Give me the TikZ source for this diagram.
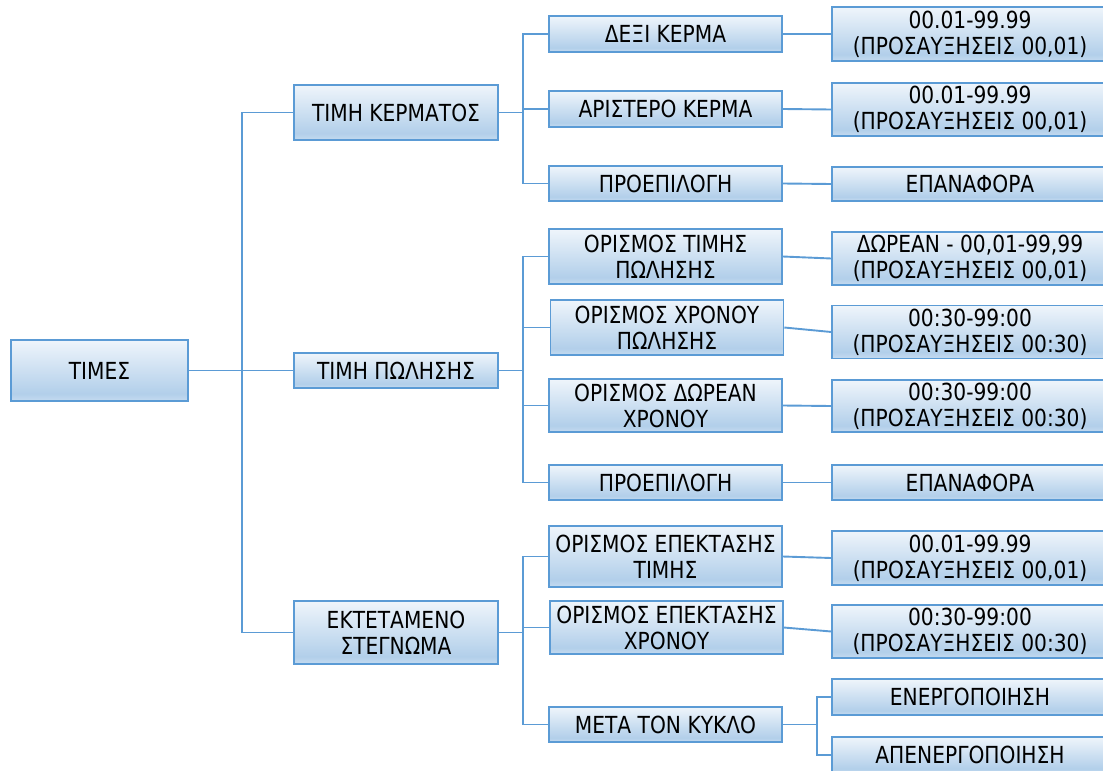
\documentclass[tikz,border=0pt]{standalone}
\usepackage{fontspec}
\setmainfont{DejaVu Sans}[FakeStretch=0.86]
\definecolor{boxline}{HTML}{5B9BD5}
\definecolor{boxtop}{HTML}{EFF5FB}
\definecolor{boxmid}{HTML}{B2CFEA}
\definecolor{boxbot}{HTML}{C5DBF0}
\pgfdeclareverticalshading{boxfill}{100bp}{color(0bp)=(boxbot); color(25bp)=(boxbot); color(31bp)=(boxmid); color(75bp)=(boxtop); color(100bp)=(boxtop)}
\begin{document}
\begin{tikzpicture}[x=1pt,y=1pt,
  box/.style={draw=boxline,line width=1.6pt,shade,shading=boxfill,align=center,inner sep=0pt,font=\fontsize{23.5}{26}\selectfont},
  lvone/.style={box,minimum width=204pt},
  lvtwo/.style={box,minimum width=233pt},
  lvthree/.style={box,minimum width=276pt},
  link/.style={draw=boxline,line width=1.9pt}]
\useasboundingbox (0,0) rectangle (1103,-771);
\clip (0,0) rectangle (1103,-771);
\node[box,minimum width=177pt,minimum height=61pt] (times) at (99.5,-370.5) {ΤΙΜΕΣ};
\node[lvone,minimum height=55pt] (coin) at (396,-112.5) {ΤΙΜΗ ΚΕΡΜΑΤΟΣ};
\node[lvone,minimum height=35pt] (sale) at (396,-370.5) {ΤΙΜΗ ΠΩΛΗΣΗΣ};
\node[lvone,minimum height=63pt] (dry) at (396,-632.5) {ΕΚΤΕΤΑΜΕΝΟ\\ΣΤΕΓΝΩΜΑ};
\node[lvtwo,minimum height=36pt] (right) at (665.5,-34) {ΔΕΞΙ ΚΕΡΜΑ};
\node[lvtwo,minimum height=36pt] (left) at (665.5,-109) {ΑΡΙΣΤΕΡΟ ΚΕΡΜΑ};
\node[lvtwo,minimum height=35pt] (presetA) at (665.5,-183.5) {ΠΡΟΕΠΙΛΟΓΗ};
\node[lvtwo,minimum height=55pt] (saleprice) at (665.5,-256.5) {ΟΡΙΣΜΟΣ ΤΙΜΗΣ\\ΠΩΛΗΣΗΣ};
\node[lvtwo,minimum height=55pt] (saletime) at (667,-327.5) {ΟΡΙΣΜΟΣ ΧΡΟΝΟΥ\\ΠΩΛΗΣΗΣ};
\node[lvtwo,minimum height=53pt] (freetime) at (665.5,-405.5) {ΟΡΙΣΜΟΣ ΔΩΡΕΑΝ\\ΧΡΟΝΟΥ};
\node[lvtwo,minimum height=35pt] (presetB) at (665.5,-482.5) {ΠΡΟΕΠΙΛΟΓΗ};
\node[lvtwo,minimum height=61pt] (extprice) at (665.5,-556.5) {ΟΡΙΣΜΟΣ ΕΠΕΚΤΑΣΗΣ\\ΤΙΜΗΣ};
\node[lvtwo,minimum height=53pt] (exttime) at (666.5,-627.5) {ΟΡΙΣΜΟΣ ΕΠΕΚΤΑΣΗΣ\\ΧΡΟΝΟΥ};
\node[lvtwo,minimum height=35pt] (after) at (665.5,-724.5) {ΜΕΤΑ ΤΟΝ ΚΥΚΛΟ};
\node[lvthree,minimum height=54pt] (rangeA) at (970,-34) {00.01-99.99\\(ΠΡΟΣΑΥΞΗΣΕΙΣ 00,01)};
\node[lvthree,minimum height=53pt] (rangeB) at (970,-109.5) {00.01-99.99\\(ΠΡΟΣΑΥΞΗΣΕΙΣ 00,01)};
\node[lvthree,minimum height=34pt] (resetA) at (970,-184) {ΕΠΑΝΑΦΟΡΑ};
\node[lvthree,minimum height=53pt] (rangeC) at (970,-258.5) {ΔΩΡΕΑΝ - 00,01-99,99\\(ΠΡΟΣΑΥΞΗΣΕΙΣ 00,01)};
\node[lvthree,minimum height=53pt] (rangeD) at (970,-332) {00:30-99:00\\(ΠΡΟΣΑΥΞΗΣΕΙΣ 00:30)};
\node[lvthree,minimum height=52pt] (rangeE) at (970,-406) {00:30-99:00\\(ΠΡΟΣΑΥΞΗΣΕΙΣ 00:30)};
\node[lvthree,minimum height=35pt] (resetB) at (970,-482.5) {ΕΠΑΝΑΦΟΡΑ};
\node[lvthree,minimum height=54pt] (rangeF) at (970,-558) {00.01-99.99\\(ΠΡΟΣΑΥΞΗΣΕΙΣ 00,01)};
\node[lvthree,minimum height=53pt] (rangeG) at (970,-631.5) {00:30-99:00\\(ΠΡΟΣΑΥΞΗΣΕΙΣ 00:30)};
\node[lvthree,minimum height=36pt] (on) at (970,-697) {ΕΝΕΡΓΟΠΟΙΗΣΗ};
\node[lvthree,minimum height=36pt] (off) at (970,-755) {ΑΠΕΝΕΡΓΟΠΟΙΗΣΗ};
\draw[link] (times.east) -- (sale.west);
\draw[link] (coin.west) -- ++(-51,0) |- (dry.west);
\foreach \kid in {right,left,presetA}
  \draw[link] (coin.east) -- ++(24,0) |- (\kid.west);
\foreach \kid in {saleprice,saletime,freetime,presetB}
  \draw[link] (sale.east) -- ++(24,0) |- (\kid.west);
\foreach \kid in {extprice,exttime,after}
  \draw[link] (dry.east) -- ++(24,0) |- (\kid.west);
\foreach \kid in {on,off}
  \draw[link] (after.east) -- ++(34,0) |- (\kid.west);
\draw[link] (right.east) -- (rangeA.west);
\draw[link] (left.east) -- (rangeB.west);
\draw[link] (presetA.east) -- (resetA.west);
\draw[link] (saleprice.east) -- (rangeC.west);
\draw[link] (saletime.east) -- (rangeD.west);
\draw[link] (freetime.east) -- (rangeE.west);
\draw[link] (presetB.east) -- (resetB.west);
\draw[link] (extprice.east) -- (rangeF.west);
\draw[link] (exttime.east) -- (rangeG.west);
\end{tikzpicture}
\end{document}
